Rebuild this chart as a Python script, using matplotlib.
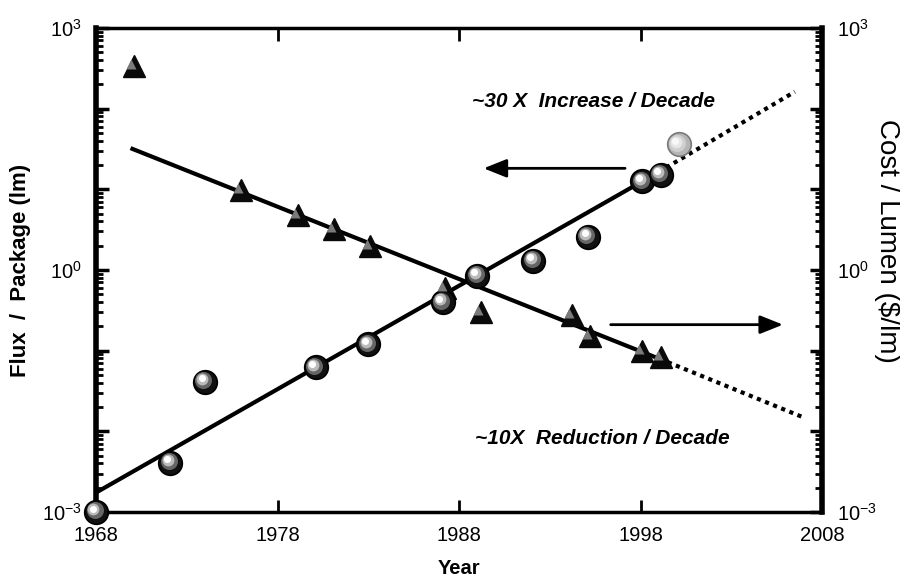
import math

import matplotlib
import matplotlib.pyplot as plt
from matplotlib.patches import FancyArrowPatch
from matplotlib.ticker import FuncFormatter, LogLocator, NullFormatter
from matplotlib.transforms import offset_copy

matplotlib.use("Agg")

plt.rcParams["font.family"] = ["Liberation Sans", "DejaVu Sans"]

# flux per package (lm), spheres
flux_years = [1968, 1972.1, 1974.0, 1980.1, 1983.0, 1987.1, 1989.0, 1992.1, 1995.1, 1998.1, 1999.1]
flux_values = [1.0e-3, 4.1e-3, 4.1e-2, 6.2e-2, 0.12, 0.40, 0.85, 1.3, 2.6, 12.6, 15.1]
flux_new_years = [2000.1]
flux_new_values = [36.3]

# cost per lumen ($/lm), triangles
cost_years = [1970.1, 1976.0, 1979.1, 1981.1, 1983.1, 1987.2, 1989.2, 1994.2, 1995.2, 1998.1, 1999.1]
cost_values = [339, 9.8, 4.8, 3.2, 2.0, 0.60, 0.30, 0.28, 0.15, 0.10, 0.083]

# trend lines and projections
flux_fit_years = [1968, 1999]
flux_fit_values = [1.74e-3, 16.4]
flux_proj_years = [1999, 2006.5]
flux_proj_values = [16.4, 162]

cost_fit_years = [1969.9, 1999.5]
cost_fit_values = [32.4, 0.072]
cost_proj_years = [1999.5, 2007]
cost_proj_values = [0.072, 0.0148]

year_ticks = [1968, 1978, 1988, 1998, 2008]

fig = plt.figure(figsize=(9, 5.84), dpi=100)
ax = fig.add_axes([0.1067, 0.1233, 0.8067, 0.8288])
ax2 = ax.twinx()

for a in (ax, ax2):
    a.set_yscale("log")
    a.set_ylim(1e-3, 1e3)
    a.yaxis.set_major_locator(LogLocator(base=10, numticks=10))
    a.yaxis.set_minor_locator(LogLocator(base=10, subs=range(2, 10), numticks=10))
    a.yaxis.set_minor_formatter(NullFormatter())
    a.yaxis.set_major_formatter(FuncFormatter(
        lambda v, pos: r"$\mathregular{10^{%d}}$" % round(math.log10(v))
        if round(math.log10(v)) in (-3, 0, 3) else ""))

ax.set_xlim(1968, 2008)
ax.set_xticks(year_ticks)
ax.tick_params(axis="x", which="major", direction="in", length=9, width=2,
               top=True, labelsize=14.5, pad=10)
ax.tick_params(axis="y", which="major", direction="in", length=9, width=2.5,
               right=False, labelsize=14.5, pad=10)
ax.tick_params(axis="y", which="minor", direction="in", length=5, width=2, right=False)
ax2.tick_params(axis="y", which="major", direction="in", length=9, width=2.5,
                left=False, labelsize=14.5, pad=11)
ax2.tick_params(axis="y", which="minor", direction="in", length=5, width=2, left=False)

for side in ("top", "bottom"):
    ax.spines[side].set_linewidth(2.5)
ax.spines["left"].set_linewidth(4)
ax.spines["right"].set_visible(False)
for side in ("top", "bottom", "left"):
    ax2.spines[side].set_visible(False)
ax2.spines["right"].set_linewidth(4)

# trend lines
ax.plot(flux_fit_years, flux_fit_values, color="black", lw=3, solid_capstyle="butt", zorder=3)
ax.plot(flux_proj_years, flux_proj_values, color="black", lw=3, ls=(0, (1, 1.1)), zorder=3)
ax.plot(cost_fit_years, cost_fit_values, color="black", lw=3, solid_capstyle="butt", zorder=3)
ax.plot(cost_proj_years, cost_proj_values, color="black", lw=3, ls=(0, (1, 1.1)), zorder=3)


def draw_spheres(x, y, base, edge, shades, size=17):
    ax.plot(x, y, "o", ms=size, mfc=base, mec=edge, mew=1.2, ls="none", clip_on=False, zorder=5)
    steps = [(-1.5, 1.5, 0.72), (-2.6, 2.6, 0.5), (-3.4, 3.4, 0.3)]
    for (dx, dy, frac), col in zip(steps, shades):
        tr = offset_copy(ax.transData, fig=fig, x=dx, y=dy, units="dots")
        ax.plot(x, y, "o", ms=size * frac, mfc=col, mec="none", ls="none",
                transform=tr, clip_on=False, zorder=6)


def draw_triangles(x, y, size=16.5):
    ax.plot(x, y, "^", ms=size, mfc="#0a0a0a", mec="#0a0a0a", ls="none", clip_on=False, zorder=5)
    tr = offset_copy(ax.transData, fig=fig, x=-3, y=2, units="dots")
    ax.plot(x, y, "^", ms=size * 0.45, mfc="#7a7a7a", mec="none", ls="none",
            transform=tr, clip_on=False, zorder=6)


draw_triangles(cost_years, cost_values)
draw_spheres(flux_years, flux_values, "#111111", "black", ["#666666", "#bbbbbb", "white"])
draw_spheres(flux_new_years, flux_new_values, "#b5b5b5", "#7a7a7a", ["#cfcfcf", "#e6e6e6", "#f8f8f8"])

# direction arrows
for start, end in (((1997.3, 18.2), (1989.2, 18.2)), ((1996.2, 0.21), (2006.0, 0.21))):
    ax.add_patch(FancyArrowPatch(start, end, arrowstyle="-|>,head_length=1.0,head_width=0.4",
                                 mutation_scale=14, lw=2, color="black", zorder=4))

ax.text(1988.7, 124, "~30 X  Increase / Decade", fontsize=15, fontweight="bold",
        fontstyle="italic", ha="left", va="center")
ax.text(1988.9, 0.0082, "~10X  Reduction / Decade", fontsize=15, fontweight="bold",
        fontstyle="italic", ha="left", va="center")

ax.set_xlabel("Year", fontsize=14.5, fontweight="bold", labelpad=10)
ax.set_ylabel("Flux  /  Package (lm)", fontsize=16, fontweight="bold", labelpad=8)
fig.text(0.985, 0.588, "Cost / Lumen ($/lm)", fontsize=20, rotation=270,
         ha="center", va="center")

fig.savefig("out.png", dpi=100)
